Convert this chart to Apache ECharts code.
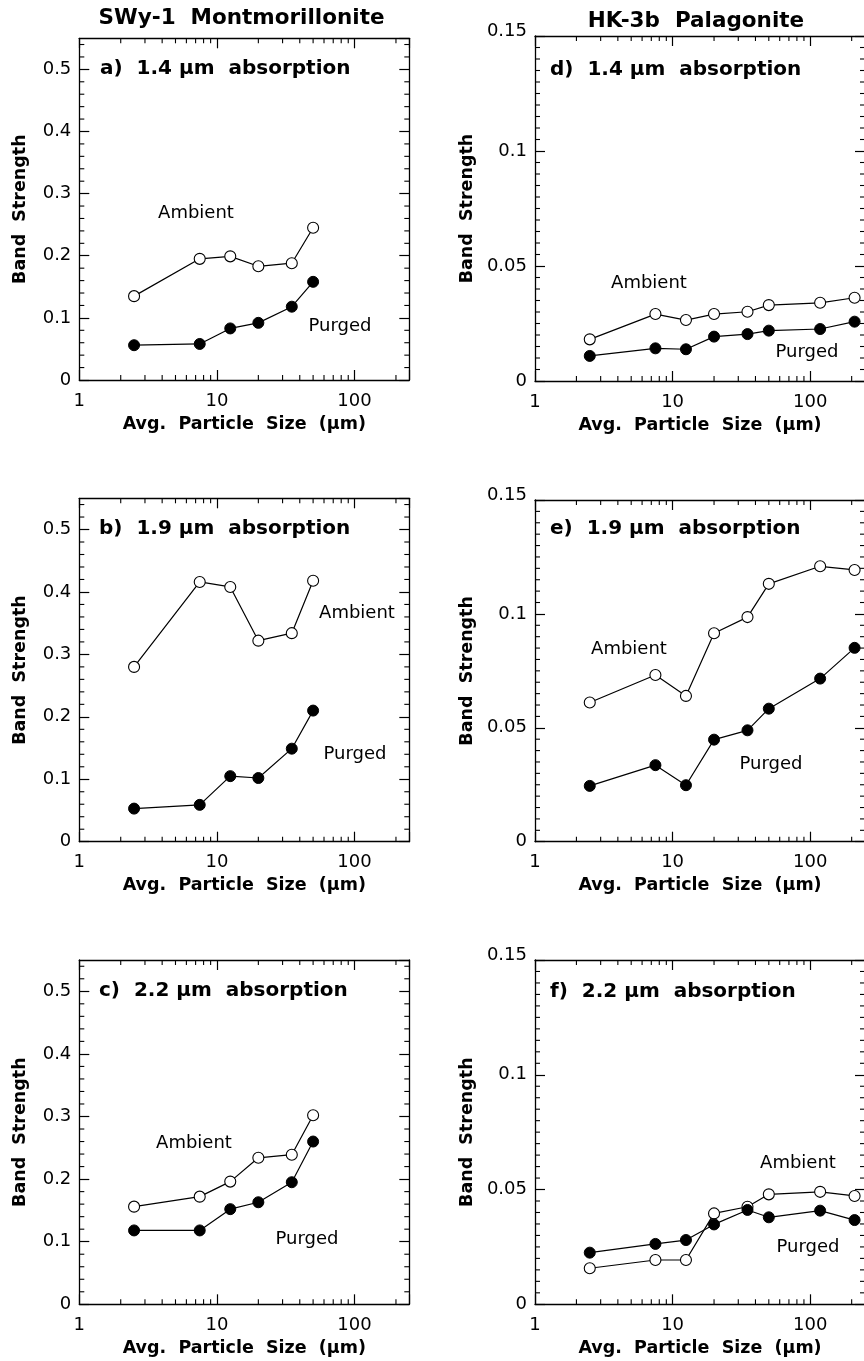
<!DOCTYPE html>
<html><head><meta charset="utf-8">
<script src="https://cdn.jsdelivr.net/npm/echarts@6/dist/echarts.min.js"></script>
<style>html,body{margin:0;padding:0;background:#fff}#c{width:864px;height:1361px}</style>
</head><body><div id="c"></div>
<script>
// ---- data ----
const sizesMont = [2.5, 7.5, 12.5, 20, 35, 50];
const sizesPala = [2.5, 7.5, 12.5, 20, 35, 50, 118, 210];

const montAmbient14 = [0.135, 0.195, 0.199, 0.183, 0.188, 0.245];
const montPurged14  = [0.056, 0.058, 0.083, 0.092, 0.118, 0.158];
const montAmbient19 = [0.280, 0.416, 0.408, 0.322, 0.334, 0.418];
const montPurged19  = [0.053, 0.059, 0.105, 0.102, 0.149, 0.210];
const montAmbient22 = [0.156, 0.172, 0.196, 0.234, 0.239, 0.302];
const montPurged22  = [0.118, 0.118, 0.152, 0.163, 0.195, 0.260];

const palaAmbient14 = [0.0181, 0.0291, 0.0265, 0.0291, 0.0301, 0.0330, 0.0340, 0.0362];
const palaPurged14  = [0.0109, 0.0142, 0.0138, 0.0193, 0.0204, 0.0219, 0.0226, 0.0258];
const palaAmbient19 = [0.0611, 0.0732, 0.0640, 0.0915, 0.0986, 0.1132, 0.1209, 0.1193];
const palaPurged19  = [0.0245, 0.0336, 0.0248, 0.0448, 0.0489, 0.0584, 0.0716, 0.0851];
const palaAmbient22 = [0.0157, 0.0193, 0.0193, 0.0396, 0.0425, 0.0479, 0.0490, 0.0472];
const palaPurged22  = [0.0225, 0.0263, 0.0280, 0.0348, 0.0411, 0.0379, 0.0408, 0.0367];

const xTickLabels = ['1', '10', '100'];
const xMinorTicks = [2, 3, 4, 5, 6, 7, 8, 9, 20, 30, 40, 50, 60, 70, 80, 90, 200];
const montMinorY = [0.02, 0.04, 0.06, 0.08, 0.12, 0.14, 0.16, 0.18, 0.22, 0.24, 0.26, 0.28,
                    0.32, 0.34, 0.36, 0.38, 0.42, 0.44, 0.46, 0.48, 0.52, 0.54];
const palaMinorY = [0.005, 0.01, 0.015, 0.02, 0.025, 0.03, 0.035, 0.04, 0.045,
                    0.055, 0.06, 0.065, 0.07, 0.075, 0.08, 0.085, 0.09, 0.095,
                    0.105, 0.11, 0.115, 0.12, 0.125, 0.13, 0.135, 0.14, 0.145];

const columnTitles = ['SWy-1  Montmorillonite', 'HK-3b  Palagonite'];
const panelLabels = ['a)  1.4 μm  absorption', 'b)  1.9 μm  absorption', 'c)  2.2 μm  absorption',
                     'd)  1.4 μm  absorption', 'e)  1.9 μm  absorption', 'f)  2.2 μm  absorption'];
const xName = 'Avg.  Particle  Size  (μm)';
const yName = 'Band  Strength';
const seriesNames = ['Ambient', 'Purged'];

// ---- layout ----
const FONT = "'DejaVu Sans', sans-serif";
const panels = [
  { grid: {left: 79.3, top: 38.3, width: 330, height: 341.7}, sizes: sizesMont, amb: montAmbient14, pur: montPurged14, yMax: 0.55, yInt: 0.1, minorY: montMinorY, lbl: [100, 69], ambPos: [196, 213], purPos: [340, 326], yGap: 50 },
  { grid: {left: 79.3, top: 498.3, width: 330, height: 343.4}, sizes: sizesMont, amb: montAmbient19, pur: montPurged19, yMax: 0.55, yInt: 0.1, minorY: montMinorY, lbl: [99, 529], ambPos: [357, 613], purPos: [355, 754], yGap: 50 },
  { grid: {left: 79.3, top: 960, width: 330, height: 344.3}, sizes: sizesMont, amb: montAmbient22, pur: montPurged22, yMax: 0.55, yInt: 0.1, minorY: montMinorY, lbl: [99, 991], ambPos: [194, 1143], purPos: [307, 1239], yGap: 50 },
  { grid: {left: 535, top: 36, width: 330, height: 345}, sizes: sizesPala, amb: palaAmbient14, pur: palaPurged14, yMax: 0.15, yInt: 0.05, minorY: palaMinorY, lbl: [550, 70], ambPos: [649, 283], purPos: [807, 352], yGap: 59 },
  { grid: {left: 535, top: 500, width: 330, height: 341.7}, sizes: sizesPala, amb: palaAmbient19, pur: palaPurged19, yMax: 0.15, yInt: 0.05, minorY: palaMinorY, lbl: [550, 529], ambPos: [629, 649], purPos: [771, 764], yGap: 59 },
  { grid: {left: 535, top: 960, width: 330, height: 344.3}, sizes: sizesPala, amb: palaAmbient22, pur: palaPurged22, yMax: 0.15, yInt: 0.05, minorY: palaMinorY, lbl: [550, 992], ambPos: [798, 1163], purPos: [808, 1247], yGap: 59 }
];

const grids = [], xAxes = [], yAxes = [], series = [], titles = [];
const axisLine = { show: true, onZero: false, lineStyle: { color: '#000', width: 1.3 } };
const majorTick = { show: true, inside: true, length: 10, lineStyle: { color: '#000', width: 1.2 } };
const tickFont = { color: '#000', fontFamily: FONT, fontSize: 18 };
const nameFont = { color: '#000', fontFamily: FONT, fontSize: 17.5, fontWeight: 'bold' };

titles.push({ text: columnTitles[0], left: 241.5, top: 18.7, textAlign: 'center', textVerticalAlign: 'middle', padding: 0,
  textStyle: { color: '#000', fontFamily: FONT, fontSize: 21.5, fontWeight: 'bold' } });
titles.push({ text: columnTitles[1], left: 696, top: 21.5, textAlign: 'center', textVerticalAlign: 'middle', padding: 0,
  textStyle: { color: '#000', fontFamily: FONT, fontSize: 21.5, fontWeight: 'bold' } });

panels.forEach((p, i) => {
  const isLeft = i < 3;
  grids.push(Object.assign({ containLabel: false, outerBoundsMode: 'none' }, p.grid));
  // bottom log axis
  xAxes.push({
    gridIndex: i, type: 'log', logBase: 10, min: 1, max: 250, position: 'bottom',
    axisLine, axisTick: majorTick, splitLine: { show: false }, minorTick: { show: false },
    axisLabel: Object.assign({ margin: 12, formatter: v => {
      const s = String(Math.round(v)); return xTickLabels.includes(s) ? s : ''; } }, tickFont),
    name: xName, nameLocation: 'middle', nameGap: 35, nameTextStyle: nameFont
  });
  // top log axis (ticks only)
  xAxes.push({
    gridIndex: i, type: 'log', logBase: 10, min: 1, max: 250, position: 'top',
    axisLine, axisTick: majorTick, splitLine: { show: false }, axisLabel: { show: false }
  });
  yAxes.push({
    gridIndex: i, type: 'value', min: 0, max: p.yMax, interval: p.yInt, position: 'left',
    axisLine, axisTick: majorTick, splitLine: { show: false },
    axisLabel: Object.assign({ margin: 8, showMaxLabel: !isLeft,
      formatter: v => (Math.abs(v - 0.15) < 1e-9 ? '{up|0.15}' : String(v)),
      rich: { up: { color: '#000', fontFamily: FONT, fontSize: 18, padding: [0, 0, 10, 0] } } }, tickFont),
    name: yName, nameLocation: 'middle', nameGap: p.yGap, nameRotate: 90, nameTextStyle: nameFont
  });
  yAxes.push({
    gridIndex: i, type: 'value', min: 0, max: p.yMax, interval: p.yInt, position: 'right',
    axisLine, axisTick: majorTick, splitLine: { show: false }, axisLabel: { show: false }
  });
  const xi = 2 * i, yi = 2 * i;
  // minor x ticks (log positions) at bottom and top
  series.push({
    type: 'custom', xAxisIndex: xi, yAxisIndex: yi, silent: true, z: 1,
    data: xMinorTicks.map(v => [v, 0]),
    renderItem: (params, api) => {
      const cs = params.coordSys;
      const px = api.coord([api.value(0), api.value(1)])[0];
      const st = { stroke: '#000', lineWidth: 1.1 };
      return { type: 'group', children: [
        { type: 'line', shape: { x1: px, y1: cs.y + cs.height, x2: px, y2: cs.y + cs.height - 5 }, style: st },
        { type: 'line', shape: { x1: px, y1: cs.y, x2: px, y2: cs.y + 5 }, style: st }
      ] };
    }
  });
  // minor y ticks at left and right
  series.push({
    type: 'custom', xAxisIndex: xi, yAxisIndex: yi, silent: true, z: 1,
    data: p.minorY.map(v => [1, v]),
    renderItem: (params, api) => {
      const cs = params.coordSys;
      const py = api.coord([api.value(0), api.value(1)])[1];
      const st = { stroke: '#000', lineWidth: 1.1 };
      return { type: 'group', children: [
        { type: 'line', shape: { x1: cs.x, y1: py, x2: cs.x + 5, y2: py }, style: st },
        { type: 'line', shape: { x1: cs.x + cs.width, y1: py, x2: cs.x + cs.width - 5, y2: py }, style: st }
      ] };
    }
  });
  series.push({
    name: seriesNames[0], type: 'line', xAxisIndex: xi, yAxisIndex: yi, z: 3,
    data: p.sizes.map((s, k) => [s, p.amb[k]]),
    symbol: 'circle', symbolSize: 11, showSymbol: true,
    lineStyle: { color: '#000', width: 1.2 },
    itemStyle: { color: '#fff', borderColor: '#000', borderWidth: 1.1 },
    emphasis: { disabled: true }
  });
  series.push({
    name: seriesNames[1], type: 'line', xAxisIndex: xi, yAxisIndex: yi, z: 4,
    data: p.sizes.map((s, k) => [s, p.pur[k]]),
    symbol: 'circle', symbolSize: 11, showSymbol: true,
    lineStyle: { color: '#000', width: 1.2 },
    itemStyle: { color: '#000', borderColor: '#000', borderWidth: 1 },
    emphasis: { disabled: true }
  });
  titles.push({ text: panelLabels[i], left: p.lbl[0], top: p.lbl[1], textAlign: 'left', textVerticalAlign: 'middle', padding: 0,
    textStyle: { color: '#000', fontFamily: FONT, fontSize: 20, fontWeight: 'bold' } });
  titles.push({ text: seriesNames[0], left: p.ambPos[0], top: p.ambPos[1], textAlign: 'center', textVerticalAlign: 'middle', padding: 0,
    textStyle: { color: '#000', fontFamily: FONT, fontSize: 18, fontWeight: 'normal' } });
  titles.push({ text: seriesNames[1], left: p.purPos[0], top: p.purPos[1], textAlign: 'center', textVerticalAlign: 'middle', padding: 0,
    textStyle: { color: '#000', fontFamily: FONT, fontSize: 18, fontWeight: 'normal' } });
});

const chart = echarts.init(document.getElementById('c'), null, { renderer: 'canvas', width: 864, height: 1361 });
chart.setOption({
  animation: false,
  backgroundColor: '#fff',
  title: titles,
  grid: grids,
  xAxis: xAxes,
  yAxis: yAxes,
  series: series
});
</script>
</body></html>
